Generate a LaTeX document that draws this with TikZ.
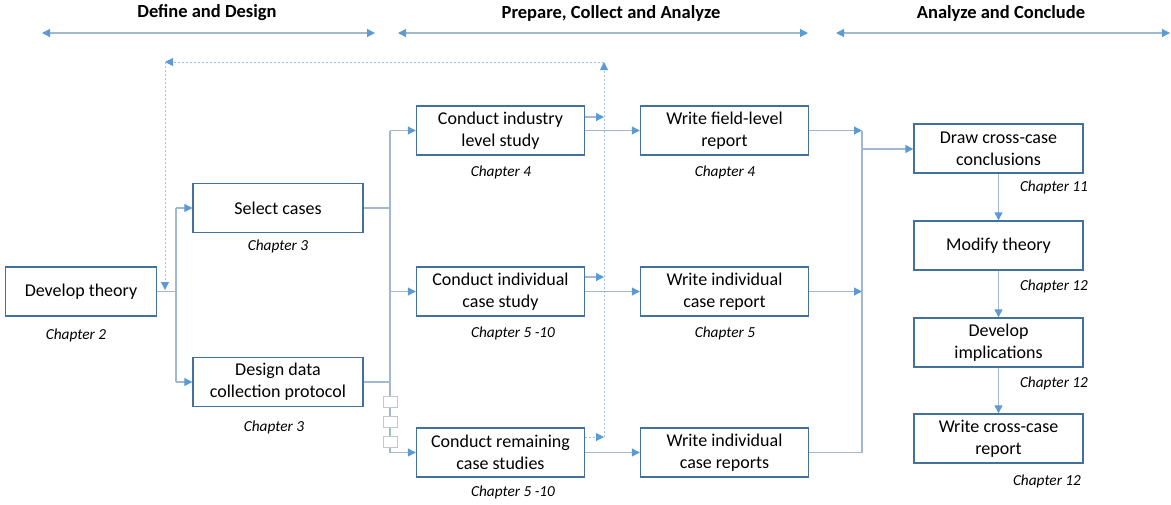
\documentclass[tikz,border=0pt]{standalone}
\usepackage{fontspec}
\setmainfont{Carlito}
\usetikzlibrary{arrows.meta}
\definecolor{boxc}{HTML}{41719C}
\definecolor{linec}{HTML}{A2B8D2}
\definecolor{tipc}{HTML}{5B9BD5}
\definecolor{dotc}{HTML}{9DC3E6}
\tikzset{
  box/.style={draw=boxc, line width=1.4pt, fill=white, minimum width=168pt, minimum height=49pt, align=center, font=\fontsize{18}{22}\selectfont, inner sep=2pt},
  chap/.style={font=\fontsize{15.3}{17}\selectfont\itshape},
  head/.style={font=\fontsize{18.5}{20}\selectfont\bfseries},
  conn/.style={draw=linec, line width=1.2pt},
  arr/.style={conn, -{Triangle[length=8pt,width=8pt,fill=tipc,color=tipc]}},
  harr/.style={conn, {Triangle[length=8pt,width=8pt,fill=tipc,color=tipc]}-{Triangle[length=8pt,width=8pt,fill=tipc,color=tipc]}},
  dots/.style={draw=dotc, line width=1pt, dash pattern=on 2pt off 2pt},
  darr/.style={dots, -{Triangle[length=8pt,width=8pt,fill=tipc,color=tipc]}},
  sq/.style={draw=gray!45, fill=white, line width=0.8pt, minimum width=14pt, minimum height=11pt, inner sep=0pt},
}
\begin{document}
\begin{tikzpicture}[x=1pt,y=-1pt]
\useasboundingbox (0,0) rectangle (1171,504);
% headers
\node[head] (h1) at (207,13) {Define and Design};
\node[head] (h2) at (611,13) {Prepare, Collect and Analyze};
\node[head] (h3) at (1001,13) {Analyze and Conclude};
\coordinate (h1a) at (42,33); \coordinate (h1b) at (375,33);
\coordinate (h2a) at (398,33); \coordinate (h2b) at (808,33);
\coordinate (h3a) at (836,33); \coordinate (h3b) at (1170,33);
\draw[harr] (h1a) -- (h1b);
\draw[harr] (h2a) -- (h2b);
\draw[harr] (h3a) -- (h3b);

% boxes
\node[box, minimum width=151pt] (dev) at (81,291.5) {Develop theory};
\node[chap] (cdev) at (76,335) {Chapter 2};
\node[box, minimum width=170pt] (sel) at (278,208) {Select cases};
\node[chap] (csel) at (278,246) {Chapter 3};
\node[box, minimum width=170pt] (des) at (278,382) {Design data\\collection protocol};
\node[chap] (cdes) at (274,427) {Chapter 3};

\node[box] (ind) at (500.5,130.5) {Conduct industry\\level study};
\node[chap] (cind) at (501,172) {Chapter 4};
\node[box] (ics) at (500.5,291.5) {Conduct individual\\case study};
\node[chap] (cics) at (513,333) {Chapter 5 -10};
\node[box] (rem) at (500.5,452.5) {Conduct remaining\\case studies};
\node[chap] (crem) at (513,492) {Chapter 5 -10};

\node[box] (wfl) at (724.5,130.5) {Write field-level\\report};
\node[chap] (cwfl) at (725,172) {Chapter 4};
\node[box] (wic) at (724.5,291.5) {Write individual\\case report};
\node[chap] (cwic) at (725,333) {Chapter 5};
\node[box] (wir) at (724.5,452.5) {Write individual\\case reports};

\node[box, minimum width=169pt] (dcc) at (998.5,148.5) {Draw cross-case\\conclusions};
\node[chap] (cdcc) at (1054,187) {Chapter 11};
\node[box, minimum width=169pt] (mod) at (998.5,245.5) {Modify theory};
\node[chap] (cmod) at (1054,286) {Chapter 12};
\node[box, minimum width=169pt] (imp) at (998.5,342.5) {Develop\\implications};
\node[chap] (cimp) at (1054,383) {Chapter 12};
\node[box, minimum width=169pt] (wcc) at (998.5,438.5) {Write cross-case\\report};
\node[chap] (cwcc) at (1047,481) {Chapter 12};

% feedback dotted loop
\coordinate (fb0) at (604,437);
\coordinate (fb1) at (604,62);
\coordinate (fb2) at (165,62);
\coordinate (fb3) at (165,290);
\draw[darr] (fb0) -- (fb1);
\draw[darr] (fb1) -- (fb2);
\draw[darr] (fb2) -- (fb3);

% develop theory -> select / design
\coordinate (j1) at (176,291.5);
\coordinate (j1t) at (176,208);
\coordinate (j1b) at (176,382);
\draw[conn] (dev.east) -- (j1);
\draw[conn] (j1t) -- (j1b);
\draw[arr] (j1t) -- (sel.west);
\draw[arr] (j1b) -- (des.west);

% select/design -> conduct
\coordinate (j2t) at (390,130.5);
\coordinate (j2m) at (390,291.5);
\coordinate (j2b) at (390,452.5);
\draw[conn] (sel.east) -- (sel.east -| j2t);
\draw[conn] (des.east) -- (des.east -| j2t);
\draw[conn] (j2t) -- (j2b);
\draw[arr] (j2t) -- (ind.west);
\draw[arr] (j2m) -- (ics.west);
\draw[arr] (j2b) -- (rem.west);
\node[sq] (s1) at (390,402) {};
\node[sq] (s2) at (390,422) {};
\node[sq] (s3) at (390,442) {};

% conduct -> dotted line
\coordinate (d1) at (604,117);
\coordinate (d2) at (604,277);
\draw[arr] (ind.east |- d1) -- (d1);
\draw[arr] (ics.east |- d2) -- (d2);
\draw[darr] (rem.east |- fb0) -- (fb0);

% conduct -> write
\draw[arr] (ind.east) -- (wfl.west);
\draw[arr] (ics.east) -- (wic.west);
\draw[arr] (rem.east) -- (wir.west);

% write -> merge
\coordinate (m1) at (862,130.5);
\coordinate (m2) at (862,291.5);
\coordinate (m3) at (862,452.5);
\coordinate (m0) at (862,149);
\draw[conn] (m1) -- (m3);
\draw[arr] (wfl.east) -- (m1);
\draw[arr] (wic.east) -- (m2);
\draw[conn] (wir.east) -- (m3);
\draw[arr] (m0) -- (dcc.west |- m0);

% right column
\draw[arr] (dcc) -- (mod);
\draw[arr] (mod) -- (imp);
\draw[arr] (imp) -- (wcc);
\end{tikzpicture}
\end{document}
